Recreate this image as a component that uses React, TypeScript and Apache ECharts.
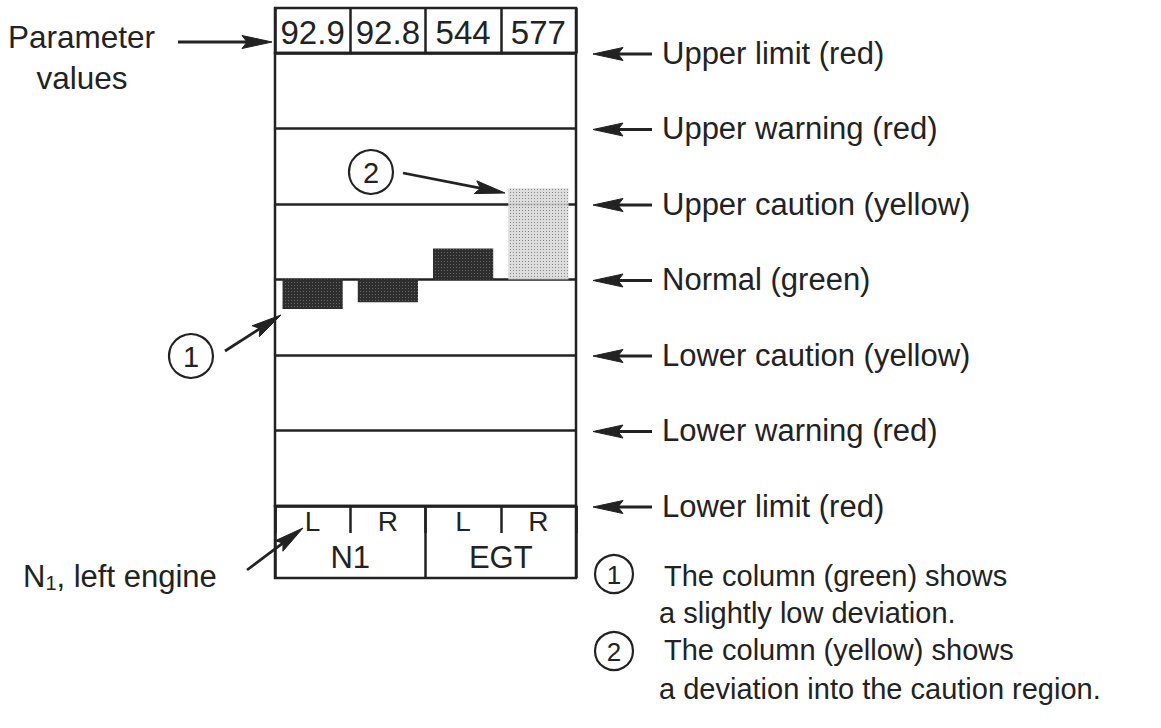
import React, { useEffect, useRef } from "react";
import * as echarts from "echarts";

// ---- data ----
const channels = ["N1 L", "N1 R", "EGT L", "EGT R"];
const parameterValues = ["92.9", "92.8", "544", "577"];
// deviation of each column, in band units relative to "Normal" (0)
const deviations = [-0.39, -0.3, 0.41, 1.21];
const columnStates = ["normal", "normal", "normal", "caution"];
const sideLabels = ["L", "R", "L", "R"];
const groupLabels = ["N1", "EGT"];
// band boundaries from -3 (lower limit) to +3 (upper limit)
const levelNames = [
  "Lower limit (red)",
  "Lower warning (red)",
  "Lower caution (yellow)",
  "Normal (green)",
  "Upper caution (yellow)",
  "Upper warning (red)",
  "Upper limit (red)",
];
const notes = [
  ["The column (green) shows", "a slightly low deviation."],
  ["The column (yellow) shows", "a deviation into the caution region."],
];

const FONT = "'Liberation Sans', Arial, Helvetica, sans-serif";
const INK = "#222222";

function arrow(x1: number, y1: number, x2: number, y2: number, headLen = 30, headHalf = 6.5, width = 2.8) {
  const dx = x2 - x1;
  const dy = y2 - y1;
  const len = Math.sqrt(dx * dx + dy * dy);
  const ux = dx / len;
  const uy = dy / len;
  const nx = -uy;
  const ny = ux;
  const bx = x2 - ux * headLen;
  const by = y2 - uy * headLen;
  return [
    {
      type: "line",
      shape: { x1, y1, x2: bx + ux * 6, y2: by + uy * 6 },
      style: { stroke: INK, lineWidth: width },
      silent: true,
    },
    {
      type: "polygon",
      shape: {
        points: [
          [x2, y2],
          [bx + nx * headHalf, by + ny * headHalf],
          [bx + ux * 5, by + uy * 5],
          [bx - nx * headHalf, by - ny * headHalf],
        ],
      },
      style: { fill: INK, stroke: INK, lineWidth: 1 },
      silent: true,
    },
  ];
}

function circled(cx: number, cy: number, r: number, label: string, fontSize: number) {
  return [
    {
      type: "circle",
      shape: { cx, cy, r },
      style: { fill: "#fff", stroke: INK, lineWidth: 2.2 },
      silent: true,
    },
    {
      type: "text",
      x: cx,
      y: cy + 1,
      style: {
        text: label,
        fontSize,
        fontFamily: FONT,
        fill: INK,
        align: "center",
        verticalAlign: "middle",
      },
      silent: true,
    },
  ];
}

function txt(x: number, y: number, text: string, fontSize: number, align = "left") {
  return {
    type: "text",
    x,
    y,
    style: { text, fontSize, fontFamily: FONT, fill: INK, align, verticalAlign: "middle" },
    silent: true,
  };
}

const darkDecal = {
  symbol: "rect",
  symbolSize: 1,
  color: "rgba(255,255,255,0.26)",
  dashArrayX: [1, 2],
  dashArrayY: [1, 2],
  rotation: 0,
};
const lightDecal = {
  symbol: "rect",
  symbolSize: 1,
  color: "rgba(60,60,60,0.6)",
  dashArrayX: [1, 2],
  dashArrayY: [1, 2],
  rotation: 0,
};

const cellLabel = {
  show: true,
  position: "inside",
  fontFamily: FONT,
  color: INK,
  opacity: 1,
  textBorderWidth: 0,
};

export default function App() {
  const ref = useRef<HTMLDivElement>(null);

  useEffect(() => {
    document.body.style.margin = "0";
    if (!ref.current) return;
    const chart = echarts.init(ref.current, undefined, { renderer: "svg" });

    const gridBox = { left: 275, right: 585 };
    const lineStyle = { color: INK, width: 2.5 };

    chart.setOption({
      animation: false,
      backgroundColor: "#ffffff",
      textStyle: { fontFamily: FONT, color: INK },
      grid: [
        { ...gridBox, top: 53, height: 453, show: true, borderColor: INK, borderWidth: 2.5, backgroundColor: "transparent" },
        { ...gridBox, top: 8, height: 45, show: true, borderColor: INK, borderWidth: 2.5, backgroundColor: "transparent" },
        { ...gridBox, top: 506, height: 72, show: true, borderColor: INK, borderWidth: 2.5, backgroundColor: "transparent" },
      ],
      xAxis: [
        {
          gridIndex: 0,
          type: "category",
          data: channels,
          axisLine: { show: false },
          axisTick: { show: false },
          axisLabel: { show: false },
          splitLine: { show: false },
        },
        {
          gridIndex: 1,
          type: "category",
          data: channels,
          axisLine: { show: false, onZero: false },
          axisTick: { show: false },
          axisLabel: { show: false },
          splitLine: { show: true, interval: 0, lineStyle },
        },
        {
          gridIndex: 2,
          type: "category",
          data: channels,
          position: "top",
          axisLine: { show: false, onZero: false },
          axisTick: { show: true, inside: true, length: 27, interval: 0, lineStyle },
          axisLabel: { show: false },
          splitLine: { show: false },
        },
        {
          gridIndex: 2,
          type: "category",
          data: groupLabels,
          position: "bottom",
          axisLine: { show: false, onZero: false },
          axisTick: { show: false },
          axisLabel: { show: false },
          splitLine: { show: true, interval: 0, lineStyle },
        },
      ],
      yAxis: [
        {
          gridIndex: 0,
          type: "value",
          min: -3,
          max: 3,
          interval: 1,
          axisLine: { show: false },
          axisTick: { show: false },
          axisLabel: { show: false },
          splitLine: { show: true, lineStyle },
        },
        {
          gridIndex: 0,
          type: "value",
          position: "right",
          min: -3,
          max: 3,
          interval: 1,
          axisLine: { show: false },
          axisTick: { show: false },
          splitLine: { show: false },
          axisLabel: {
            show: true,
            showMinLabel: true,
            showMaxLabel: true,
            margin: 86,
            fontSize: 31,
            fontFamily: FONT,
            color: INK,
            padding: [5, 0, 0, 0],
            formatter: (v: number) => levelNames[Math.round(v) + 3],
          },
        },
        { gridIndex: 1, type: "value", min: 0, max: 1, show: false },
        { gridIndex: 2, type: "value", min: 0, max: 1, show: false },
      ],
      series: [
        {
          type: "bar",
          xAxisIndex: 0,
          yAxisIndex: 0,
          barWidth: "80%",
          data: deviations.map((v, i) => ({
            value: v,
            itemStyle:
              columnStates[i] === "caution"
                ? { color: "#d9d9d9", decal: lightDecal, opacity: 0.9 }
                : { color: "#2e2e2e", decal: darkDecal },
          })),
        },
        {
          type: "scatter",
          xAxisIndex: 1,
          yAxisIndex: 2,
          symbolSize: 1,
          itemStyle: { color: "#ffffff" },
          data: channels.map((_, i) => [i, 0.5]),
          label: {
            ...cellLabel,
            offset: [0, 2],
            fontSize: 33,
            formatter: (p: any) => parameterValues[p.dataIndex],
          },
        },
        {
          type: "scatter",
          xAxisIndex: 2,
          yAxisIndex: 3,
          symbolSize: 1,
          itemStyle: { color: "#ffffff" },
          data: sideLabels.map((_, i) => [i, 0.78]),
          label: {
            ...cellLabel,
            fontSize: 28,
            formatter: (p: any) => sideLabels[p.dataIndex],
          },
        },
        {
          type: "scatter",
          xAxisIndex: 3,
          yAxisIndex: 3,
          symbolSize: 1,
          itemStyle: { color: "#ffffff" },
          data: groupLabels.map((_, i) => [i, 0.28]),
          label: {
            ...cellLabel,
            fontSize: 31,
            formatter: (p: any) => groupLabels[p.dataIndex],
          },
        },
      ],
    });

    // annotations (arrows, circled numbers, notes)
    const g: any[] = [];
    for (let v = -3; v <= 3; v++) {
      const y = chart.convertToPixel({ yAxisIndex: 0 } as any, v) as number;
      g.push(...arrow(652, y + 1, 593, y + 1));
    }
    g.push(txt(8, 37, "Parameter", 31.5));
    g.push(txt(82, 78, "values", 31.5, "center"));
    g.push(...arrow(178, 42, 272, 42));

    g.push(...circled(191, 356, 22, "1", 29));
    g.push(...arrow(225, 351, 281, 315));
    g.push(...circled(371, 172, 22, "2", 29));
    g.push(...arrow(403, 173, 505, 193));

    g.push({
      type: "text",
      x: 23,
      y: 576,
      style: {
        text: "{n|N}{s|1}{n|, left engine}",
        fontFamily: FONT,
        fill: INK,
        verticalAlign: "middle",
        rich: {
          n: { fontSize: 31, fontFamily: FONT, fill: INK, lineHeight: 34 },
          s: { fontSize: 20, fontFamily: FONT, fill: INK, verticalAlign: "bottom", lineHeight: 23 },
        },
      },
      silent: true,
    });
    g.push(...arrow(247, 570, 303, 528));

    g.push(...circled(614, 574, 19, "1", 26));
    g.push(txt(664, 576, notes[0][0], 29));
    g.push(txt(659, 613, notes[0][1], 29));
    g.push(...circled(614, 651, 19, "2", 26));
    g.push(txt(664, 650, notes[1][0], 29));
    g.push(txt(659, 689, notes[1][1], 29));

    chart.setOption({ graphic: { elements: g } });

    return () => chart.dispose();
  }, []);

  return <div ref={ref} style={{ width: 1161, height: 728 }} />;
}
